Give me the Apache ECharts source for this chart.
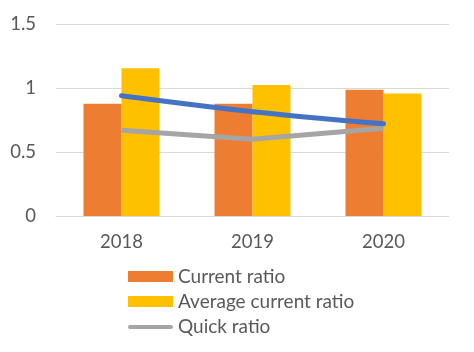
<!DOCTYPE html>
<html><head><meta charset="utf-8">
<script src="https://cdn.jsdelivr.net/npm/echarts@6/dist/echarts.min.js"></script>
<style>html,body{margin:0;padding:0;background:#fff}#c{width:474px;height:352px}</style>
</head><body><div id="c"></div>
<script>
const categories = ['2018', '2019', '2020'];
const currentRatio = [0.877, 0.877, 0.987];
const averageCurrentRatio = [1.154, 1.023, 0.958];
const quickRatio = [0.67, 0.60, 0.685];
const trendLine = [0.94, 0.815, 0.72];
const yTicks = [0, 0.5, 1, 1.5];

const font = 'Lato, "Open Sans", sans-serif';
const chart = echarts.init(document.getElementById('c'));
chart.setOption({
  animation: false,
  grid: {left: 56, right: 25, top: 24, bottom: 136},
  legend: {
    data: [
      {name: 'Current ratio', icon: 'rect'},
      {name: 'Average current ratio', icon: 'rect'},
      {name: 'Quick ratio', icon: 'path://M0,0 L0.01,0 M2,4 L43,4 A2,2 0 0 1 43,8 L2,8 A2,2 0 0 1 2,4 Z M45,11 L44.99,11'}
    ],
    orient: 'vertical', left: 123, top: 262,
    itemWidth: 45, itemHeight: 11, itemGap: 6,
    textStyle: {fontFamily: font, fontSize: 19, color: '#595959', lineHeight: 17}
  },
  xAxis: {
    type: 'category', data: categories,
    axisLine: {lineStyle: {color: '#D9D9D9', width: 1}},
    axisTick: {show: false},
    axisLabel: {fontFamily: font, fontSize: 18.5, color: '#595959', margin: 17}
  },
  yAxis: {
    type: 'value', min: yTicks[0], max: yTicks[yTicks.length-1], interval: 0.5,
    axisLine: {show: false}, axisTick: {show: false},
    splitLine: {lineStyle: {color: '#D9D9D9', width: 1}},
    axisLabel: {fontFamily: font, fontSize: 18.5, color: '#595959', margin: 20}
  },
  series: [
    {name: 'Current ratio', type: 'bar', data: currentRatio, barWidth: 38, barGap: '0%',
     itemStyle: {color: '#ED7D31'}},
    {name: 'Average current ratio', type: 'bar', data: averageCurrentRatio, barWidth: 38, barGap: '0%',
     itemStyle: {color: '#FFC000'}},
    {name: 'Quick ratio', type: 'line', data: quickRatio, symbol: 'none',
     lineStyle: {color: '#A5A5A5', width: 5}, itemStyle: {color: '#A5A5A5'}},
    {name: 'Trend', type: 'line', data: trendLine, symbol: 'none', smooth: 0.3,
     lineStyle: {color: '#4472C4', width: 5, cap: 'round'}, itemStyle: {color: '#4472C4'}}
  ]
});
</script></body></html>
